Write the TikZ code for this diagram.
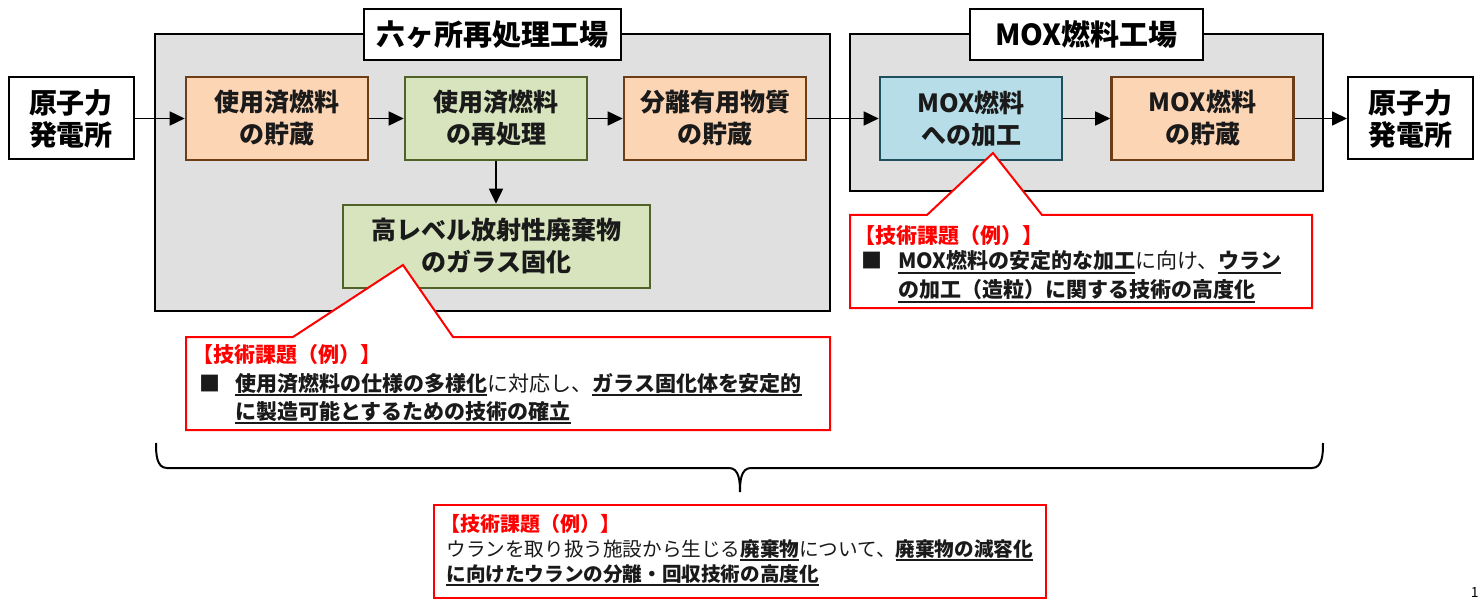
\documentclass[tikz,border=0pt]{standalone}
\usepackage{fontspec}
\setmainfont{Noto Sans CJK JP}
\usepackage{xcolor}
\usepackage{tikz}
\usetikzlibrary{arrows.meta}

\definecolor{plantgray}{HTML}{E0E0E0}
\definecolor{storefill}{HTML}{FCD5B5}
\definecolor{storeline}{HTML}{6B3E17}
\definecolor{procfill}{HTML}{D7E4BD}
\definecolor{procline}{HTML}{4F6228}
\definecolor{moxfill}{HTML}{B7DEE8}
\definecolor{moxline}{HTML}{1F4E5C}
\definecolor{issuered}{HTML}{FF0000}
\definecolor{bodytext}{HTML}{1A1A1A}

\newcommand{\undl}[1]{\setbox0\hbox{#1}\rlap{\rule[-2.6pt]{\wd0}{0.9pt}}\box0}

\tikzset{
	plant/.style={draw, line width=1pt, fill=plantgray},
	plantname/.style={draw, line width=1pt, fill=white, inner sep=0pt, minimum height=25.5pt,
		font=\fontsize{14.5}{16}\selectfont\bfseries},
	unitbox/.style={line width=1.3pt, inner sep=0pt, minimum width=91pt, minimum height=41.5pt,
		align=center, text=bodytext, font=\fontsize{12.5}{16}\selectfont\bfseries},
	storebox/.style={unitbox, draw=storeline, fill=storefill},
	procbox/.style={unitbox, draw=procline, fill=procfill},
	moxbox/.style={unitbox, draw=moxline, fill=moxfill},
	npsbox/.style={draw, line width=1pt, fill=white, inner sep=0pt, minimum width=62.5pt,
		minimum height=41pt, align=center, font=\fontsize{14}{16}\selectfont\bfseries},
	arr/.style={-{Triangle[length=7.5pt,width=7pt]}, line width=0.85pt},
	issue/.style={draw=issuered, line width=1pt, fill=white},
	issuetxt/.style={anchor=west, inner sep=0pt, text height=0.8em, text depth=0.2em, text=bodytext,
		font=\fontsize{10.5}{14}\selectfont},
	issuehead/.style={issuetxt, text=issuered, font=\fontsize{10.5}{14}\selectfont\bfseries},
}

\begin{document}
\begin{tikzpicture}[x=0.5pt, y=-0.5pt]
		\useasboundingbox (0,0) rectangle (1480,599);

		\draw[plant] (155,34) rectangle (830,311);
		\draw[plant] (850,34) rectangle (1323,191);
		\node[plantname, minimum width=128.5pt] (rptitle) at (492.5,34.5) {六ヶ所再処理工場};
		\node[plantname, minimum width=116.5pt] (moxtitle) at (1086.5,34.5) {MOX燃料工場};

		\node[npsbox] (npsL) at (71,118.5) {原子力\\発電所};
		\node[storebox] (spent) at (277,118.5) {使用済燃料\\の貯蔵};
		\node[procbox] (repro) at (496,118.5) {使用済燃料\\の再処理};
		\node[storebox] (useful) at (715,118.5) {分離有用物質\\の貯蔵};
		\node[procbox, minimum width=153.5pt] (glass) at (496.5,246.5) {高レベル放射性廃棄物\\のガラス固化};
		\node[moxbox] (moxfab) at (971,118.5) {MOX燃料\\への加工};
		\node[storebox] (moxstore) at (1202.5,118.5) {MOX燃料\\の貯蔵};
		\node[npsbox] (npsR) at (1410.5,118.5) {原子力\\発電所};

		\foreach \a/\b in {npsL/spent, spent/repro, repro/useful, useful/moxfab, moxfab/moxstore, moxstore/npsR}
		\draw[arr] (\a) -- (\b);
		\draw[arr] (repro.south) -- (repro.south |- glass.north);

		\draw[issue] (293,337) -- (403,265) -- (453,337) -- (830,337) -- (830,430) -- (186,430) -- (186,337) -- cycle;
		\node[issuehead] (glasshead) at (192,357) {【技術課題（例）】};
		\node[issuetxt] (glassbul) at (199,385) {■};
		\node[issuetxt] (glassl1) at (235,385) {\undl{\bfseries 使用済燃料の仕様の多様化}に対応し、\undl{\bfseries ガラス固化体を安定的}};
		\node[issuetxt] (glassl2) at (235,413) {\undl{\bfseries に製造可能とするための技術の確立}};

		\draw[issue] (927,215) -- (993,153) -- (1042,215) -- (1312,215) -- (1312,308) -- (850,308) -- (850,215) -- cycle;
		\node[issuehead] (moxhead) at (854,237) {【技術課題（例）】};
		\node[issuetxt] (moxbul) at (861,263) {■};
		\node[issuetxt] (moxl1) at (898,263) {\undl{\bfseries MOX燃料の安定的な加工}に向け、\undl{\bfseries ウラン}};
		\node[issuetxt] (moxl2) at (898,292) {\undl{\bfseries の加工（造粒）に関する技術の高度化}};

		\draw[line width=1pt] (156,443) to[out=-90, in=180] (167,468) -- (729,468) to[out=0, in=90] (740,492)
			to[out=90, in=180] (751,468) -- (1312,468) to[out=0, in=-90] (1323,443);

		\draw[issue] (434,505) rectangle (1046,598);
		\node[issuehead, font=\fontsize{10}{13}\selectfont\bfseries] (allhead) at (440,525) {【技術課題（例）】};
		\node[issuetxt, font=\fontsize{9.8}{13}\selectfont] (alll1) at (446,550) {ウランを取り扱う施設から生じる\undl{\bfseries 廃棄物}について、\undl{\bfseries 廃棄物の減容化}};
		\node[issuetxt, font=\fontsize{9.8}{13}\selectfont] (alll2) at (446,575) {\undl{\bfseries に向けたウランの分離・回収技術の高度化}};

		\node[anchor=south east, inner sep=0.5pt, font=\fontsize{7}{7}\selectfont] (pagenum) at (1480,599) {1};
	\end{tikzpicture}
\end{document}
